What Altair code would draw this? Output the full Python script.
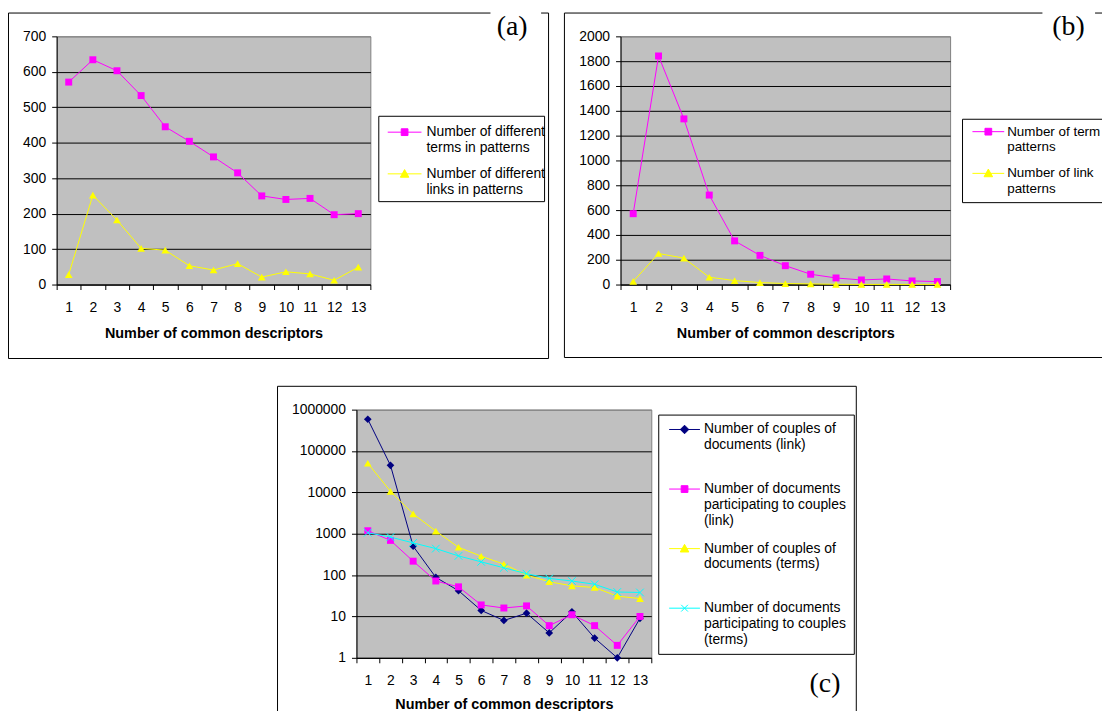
import altair as alt
import pandas as pd

# ---------------- data ----------------
cats = list(range(1, 14))

a_terms = [571, 634, 603, 533, 445, 404, 360, 315, 250, 240, 243, 197, 200]
a_links = [28, 252, 182, 102, 97, 53, 41, 59, 21, 36, 30, 12, 49]

b_terms = [571, 1842, 1335, 721, 352, 235, 152, 83, 53, 37, 45, 29, 24]
b_links = [25, 250, 213, 59, 32, 16, 8, 5, 2, 1, 1, 1, 1]

c_couples_link = [586000, 45000, 500, 88, 42, 14, 8, 12, 4, 13, 3, 1, 9]
c_docs_link = [1180, 690, 217, 72, 52, 19, 16, 18, 6, 11, 6, 2, 10]
c_couples_terms = [50600, 10600, 3020, 1160, 470, 286, 184, 100, 69, 55, 50, 31, 27]
c_docs_terms = [1060, 830, 600, 437, 291, 209, 150, 108, 83, 72, 60, 39, 38]

a_names = ["Number of different|terms in patterns", "Number of different|links in patterns"]
b_names = ["Number of term|patterns", "Number of link|patterns"]
c_names = ["Number of couples of|documents (link)| ",
           "Number of documents|participating to couples|(link)",
           "Number of couples of|documents (terms)| ",
           "Number of documents|participating to couples|(terms)"]

a_ticks = [0, 100, 200, 300, 400, 500, 600, 700]
b_ticks = [0, 200, 400, 600, 800, 1000, 1200, 1400, 1600, 1800, 2000]
c_ticks = [1, 10, 100, 1000, 10000, 100000, 1000000]

x_title = "Number of common descriptors"

# ---------------- style ----------------
FONT = "Liberation Sans"
SERIF = "Liberation Serif"
BG = "#C0C0C0"
BORDER = "#808080"
MAGENTA = "#FF00FF"
YELLOW = "#FFFF00"
NAVY = "#000080"
CYAN = "#00FFFF"

XPATH = "M-1,-1L1,1M-1,1L1,-1"
MARKS = {
    "square": dict(shape="square", size=49, filled=True),
    "triangle": dict(shape="triangle-up", size=60, filled=True),
    "diamond": dict(shape="diamond", size=60, filled=True),
    "x": dict(shape=XPATH, size=60, filled=False),
}


def legend_path(kind, r):
    s = 3.4 / r
    t = 4.3 / r
    if kind == "square":
        return f"M-1,0H1M{-s:.3f},{-s:.3f}H{s:.3f}V{s:.3f}H{-s:.3f}Z"
    if kind == "triangle":
        return f"M-1,0H1M0,{-t:.3f}L{t:.3f},{3.4 / r:.3f}H{-t:.3f}Z"
    if kind == "diamond":
        return f"M-1,0H1M0,{-t:.3f}L{t:.3f},0L0,{t:.3f}L{-t:.3f},0Z"
    return f"M-1,0H1M{-s:.3f},{-s:.3f}L{s:.3f},{s:.3f}M{-s:.3f},{s:.3f}L{s:.3f},{-s:.3f}"


ONE = pd.DataFrame({"k": [0]})


def rect(x1, x2, y1, y2, **kw):
    return alt.Chart(ONE).mark_rect(**kw).encode(
        x=alt.value(x1), x2=alt.value(x2), y=alt.value(y1), y2=alt.value(y2))


def hrule(x1, x2, y):
    return alt.Chart(ONE).mark_rule(color="black", strokeWidth=1).encode(
        x=alt.value(x1), x2=alt.value(x2), y=alt.value(y))


def vrule(x, y1, y2):
    return alt.Chart(ONE).mark_rule(color="black", strokeWidth=1).encode(
        x=alt.value(x), y=alt.value(y1), y2=alt.value(y2))


def frame(x1, x2, y1, y2):
    return rect(x1, x2, y1, y2, fillOpacity=0, stroke="black", strokeWidth=1)


def open_frame(x1, x2, y1, y2, top_segments):
    parts = [vrule(x1, y1, y2), vrule(x2, y1, y2), hrule(x1, x2, y2)]
    parts += [hrule(s0, s1, y1) for s0, s1 in top_segments]
    return parts


def invisible(x1, x2, y1, y2):
    return rect(x1, x2, y1, y2, fillOpacity=0)


def label(txt, x, y):
    return alt.Chart(ONE).mark_text(text=txt, font=SERIF, fontSize=28, align="center",
                                    baseline="middle", color="black").encode(
        x=alt.value(x), y=alt.value(y))


def make_panel(names, values, colors, kinds, width, height, yscale, yticks, fmt,
               title_pad, leg, decor_before, decor_after):
    df = pd.DataFrame([{"n": n, "series": s, "value": v}
                       for s, vals in zip(names, values) for n, v in zip(cats, vals)])
    top = yticks[-1]
    x = alt.X("n:O", scale=alt.Scale(type="band", paddingInner=0, paddingOuter=0),
              axis=alt.Axis(title=x_title, tickBand="extent", labelAngle=0, labelPadding=11,
                            titlePadding=title_pad, labelOverlap=False, grid=False))
    y = alt.Y("value:Q", scale=yscale,
              axis=alt.Axis(title=None, values=yticks, format=fmt, grid=True, labelPadding=6,
                            gridColor={"condition": {"test": f"datum.value >= {top}",
                                                     "value": BORDER},
                                       "value": "black"}))
    layers = list(decor_before)
    for name, color, kind in zip(names, colors, kinds):
        sub = alt.Chart(df).transform_filter(alt.datum.series == name)
        layers.append(sub.mark_line(color=color, strokeWidth=1).encode(x=x, y=y))
        layers.append(sub.mark_point(color=color, opacity=1, strokeWidth=1,
                                     **MARKS[kind]).encode(x=x, y=y))
    r = leg["r"]
    paths = [legend_path(k, r) for k in kinds]
    L = alt.Legend(title=None, orient="none", legendX=leg["x"], legendY=leg["y"],
                   labelExpr="split(datum.label, '|')", labelFont=FONT,
                   labelFontSize=leg.get("fs", 14),
                   labelColor="black", labelOffset=leg["lo"], labelLimit=600,
                   symbolSize=(2 * r) ** 2, symbolStrokeWidth=1, symbolOpacity=1,
                   rowPadding=leg["rp"], padding=0, direction="vertical")
    legend_layer = alt.Chart(df).transform_filter("false").mark_point(
        filled=True, opacity=1, strokeWidth=1).encode(
        fill=alt.Fill("series:N", scale=alt.Scale(domain=names, range=colors), legend=L),
        stroke=alt.Stroke("series:N", scale=alt.Scale(domain=names, range=colors), legend=L),
        shape=alt.Shape("series:N", scale=alt.Scale(domain=names, range=paths), legend=L),
    )
    layers.append(legend_layer)
    layers += list(decor_after)
    return alt.layer(*layers).properties(
        width=width, height=height,
        view=alt.ViewBackground(fill=BG, stroke=BORDER, strokeWidth=1))


pa = make_panel(
    a_names, [a_terms, a_links], [MAGENTA, YELLOW], ["square", "triangle"],
    316, 250, alt.Scale(domain=[0, 700], nice=False, zero=True), a_ticks, "d", 12,
    dict(r=17, x=333, y=79, lo=4.5, rp=1),
    open_frame(-48.5, 495.5, -23.5, 324.5, [(-48.5, 437), (488, 495.5)])
    + [label("(a)", 458.8, -9.5)],
    [rect(324.5, 491.5, 80.5, 166.5, fillOpacity=0, stroke="black", strokeWidth=1)],
)

pb = make_panel(
    b_names, [b_terms, b_links], [MAGENTA, YELLOW], ["square", "triangle"],
    332, 250, alt.Scale(domain=[0, 2000], nice=False, zero=True), b_ticks, "d", 12,
    dict(r=16, x=354, y=79.5, lo=2.5, rp=3, fs=13.5),
    [invisible(-346, -300, 0, 10)]
    + open_frame(-56.5, 540, -23.5, 323.5, [(-56.5, 425), (478, 540)])
    + [label("(b)", 451.2, -9.5)],
    [rect(344.5, 540, 83.5, 167.5, fillOpacity=0, stroke="black", strokeWidth=1)],
)

pc = make_panel(
    c_names, [c_couples_link, c_docs_link, c_couples_terms, c_docs_terms],
    [NAVY, MAGENTA, YELLOW, CYAN], ["diamond", "square", "triangle", "x"],
    297, 250, alt.Scale(type="log", domain=[1, 1000000], nice=False), c_ticks, "d", 10,
    dict(r=15.5, x=314.5, y=4, lo=3.5, rp=5),
    [frame(-79.5, 503.5, -23.5, 310), label("(c)", 472, 276)],
    [rect(304.5, 501.5, 5.5, 246.5, fillOpacity=0, stroke="black", strokeWidth=1)],
)

spacer = invisible(0, 10, 0, 10).properties(
    width=10, height=10, view=alt.ViewBackground(fillOpacity=0, strokeOpacity=0))

chart = alt.concat(
    pa, pb, spacer, pc, columns=2,
    spacing={"row": 25, "column": -276}, bounds="full",
    align={"row": "all", "column": "none"},
).resolve_scale(
    fill="independent", stroke="independent", shape="independent"
).resolve_legend(
    fill="independent", stroke="independent", shape="independent"
).properties(
    autosize=alt.AutoSizeParams(type="none"),
    padding={"left": 49, "top": 26, "right": 1053, "bottom": 677},
).configure(
    font=FONT, background="white"
).configure_axis(
    labelFont=FONT, labelFontSize=14, labelColor="black",
    titleFont=FONT, titleFontSize=14.5, titleFontWeight="bold", titleColor="black",
    domainColor="black", domainWidth=1, tickColor="black", tickWidth=1, tickSize=5,
    gridWidth=1, gridOpacity=1,
)

chart.save("out.html", embed_options={"renderer": "svg", "actions": False})
